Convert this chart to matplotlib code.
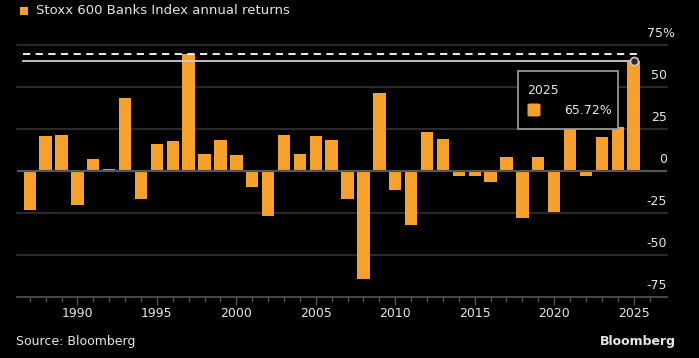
import matplotlib.pyplot as plt
from matplotlib.patches import FancyBboxPatch, Rectangle

# annual returns, %
years = list(range(1987, 2026))
returns = [-23.2, 20.8, 21.4, -20.2, 7.3, 1.4, 43.5, -16.9, 15.9, 17.7,
           69.5, 10.1, 18.5, 9.3, -9.3, -26.8, 21.6, 9.9, 21.0, 18.7,
           -16.9, -64.3, 46.6, -11.3, -32.3, 23.0, 18.8, -2.8, -3.2, -6.7,
           8.1, -28.2, 8.3, -24.6, 34.0, -3.2, 20.2, 26.0, 65.72]
y_ticks = [75, 50, 25, 0, -25, -50, -75]
y_labels = ['75%', '50', '25', '0', '-25', '-50', '-75']
x_ticks = [1990, 1995, 2000, 2005, 2010, 2015, 2020, 2025]

orange = '#F7A12A'
grid_c = '#333333'
text_c = '#e6e6e6'

W, H = 699, 358
fig = plt.figure(figsize=(W / 100, H / 100), dpi=100, facecolor='black')
ax = fig.add_axes([16.7 / W, 1 - 297 / H, (667 - 16.7) / W, (297 - 45) / H])
ax.set_facecolor('black')
ax.set_xlim(1986.18, 2027.1)
ax.set_ylim(-75, 75)

for v in y_ticks:
    if v == 0:
        ax.axhline(v, color='#555555', lw=1.6, zorder=3)
    elif v == -75:
        ax.axhline(v, color='#555555', lw=1.2, zorder=1, clip_on=False)
    else:
        ax.axhline(v, color=grid_c, lw=1.2, zorder=1, clip_on=False)

ax.bar(years, returns, width=0.78, color=orange, zorder=2)

# max and last value lines
last = returns[-1]
peak = max(returns)
ax.plot([years[0] - 0.45, years[-1] + 0.45], [peak, peak], color='white',
        lw=1.3, ls=(0, (4, 3)), zorder=3, clip_on=False)
ax.plot([years[0] - 0.4, years[-1]], [last, last], color='#cfcfcf', lw=1.3, zorder=3)
ax.plot([years[-1]], [last], 'o', ms=5.8, mfc='#2a2a2a', mec='#c8c8c8', mew=1.2,
        zorder=5, clip_on=False)

for s in ax.spines.values():
    s.set_visible(False)
ax.set_yticks([])
ax.set_xticks(x_ticks)
ax.set_xticklabels([str(x) for x in x_ticks], color=text_c, fontsize=9)
ax.set_xticks(list(range(1987, 2027)), minor=True)
ax.tick_params(axis='x', which='major', length=6, color='#555555', width=1, pad=1.5)
ax.tick_params(axis='x', which='minor', length=3.5, color='#555555', width=1)

# y labels sit above the grid lines on the right
for v, lab in zip(y_ticks, y_labels):
    ax.annotate(lab, xy=(1.0, v), xycoords=('axes fraction', 'data'),
                xytext=(6 if lab.endswith('%') else 0, 8.5), textcoords='offset points',
                ha='right', va='center', color=text_c, fontsize=9)

# tooltip
px = lambda x, y: (x / W, 1 - y / H)
tip = Rectangle(px(518, 129), 100 / W, 58 / H, transform=fig.transFigure,
                facecolor='black', edgecolor='#a0a0a0', lw=1.2, zorder=10)
fig.add_artist(tip)
fig.add_artist(FancyBboxPatch(px(527.5, 116.5), 13 / W, 13 / H,
                              boxstyle='round,pad=0,rounding_size=0.004',
                              transform=fig.transFigure, facecolor=orange,
                              edgecolor='none', zorder=11))
fig.text(*px(527, 90), str(years[-1]), color=text_c, fontsize=9, va='center', zorder=12)
fig.text(*px(612, 110), f'{last:.2f}%', color=text_c, fontsize=9, va='center',
         ha='right', zorder=12)

# legend / title
fig.add_artist(Rectangle(px(19.5, 14.5), 8 / W, 8 / H, transform=fig.transFigure,
                         facecolor=orange, edgecolor='none'))
fig.text(*px(36, 10), 'Stoxx 600 Banks Index annual returns', color=text_c,
         fontsize=9.5, va='center')

fig.text(*px(16, 342), 'Source: Bloomberg', color=text_c, fontsize=9, va='center')
fig.text(*px(676, 342), 'Bloomberg', color=text_c, fontsize=9, va='center',
         ha='right', fontweight='bold')

fig.savefig('out.png', dpi=100, facecolor='black')
